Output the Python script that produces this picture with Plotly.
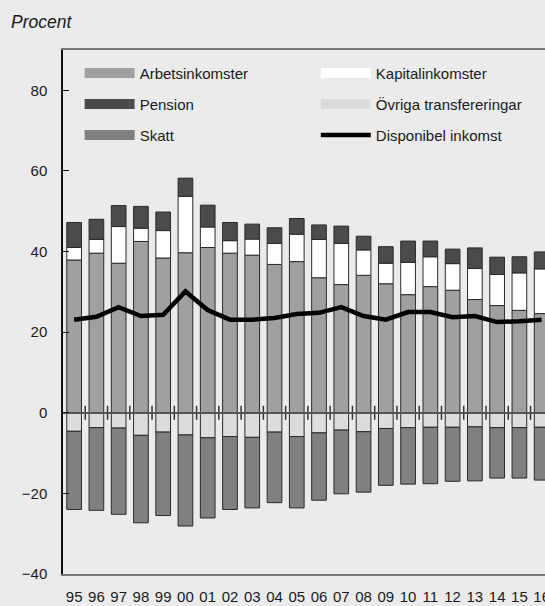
import plotly.graph_objects as go

years = ["95", "96", "97", "98", "99", "00", "01", "02", "03", "04", "05",
         "06", "07", "08", "09", "10", "11", "12", "13", "14", "15", "16"]

arbetsinkomster = [37.9, 39.6, 37.1, 42.5, 38.4, 39.7, 41.0, 39.6, 39.1, 36.8, 37.5,
                   33.5, 31.8, 34.1, 32.0, 29.3, 31.3, 30.4, 28.1, 26.6, 25.4, 24.6]
kapitalinkomster = [3.1, 3.4, 9.1, 3.3, 6.8, 14.0, 5.1, 3.1, 4.0, 5.2, 6.8,
                    9.5, 10.2, 6.3, 5.1, 8.0, 7.4, 6.6, 7.7, 7.7, 9.3, 11.1]
pension = [6.2, 5.0, 5.2, 5.4, 4.6, 4.5, 5.4, 4.5, 3.7, 3.9, 3.9,
           3.6, 4.3, 3.4, 4.1, 5.3, 3.9, 3.6, 5.1, 4.3, 4.0, 4.2]
ovriga_transfereringar = [-4.6, -3.7, -3.8, -5.6, -4.8, -5.5, -6.2, -5.9, -6.1, -4.8, -5.9,
                          -5.0, -4.3, -4.7, -3.9, -3.7, -3.6, -3.6, -3.5, -3.7, -3.7, -3.6]
skatt = [-19.4, -20.5, -21.4, -21.7, -20.7, -22.6, -19.9, -18.1, -17.5, -17.5, -17.7,
         -16.7, -15.8, -15.0, -14.1, -14.0, -14.0, -13.4, -13.4, -12.5, -12.5, -13.1]
disponibel_inkomst = [23.1, 23.8, 26.2, 24.0, 24.3, 30.1, 25.5, 23.1, 23.1, 23.5, 24.5,
                      24.8, 26.2, 24.0, 23.1, 25.0, 25.0, 23.7, 24.0, 22.5, 22.7, 23.1]

y_ticks = [-40, -20, 0, 20, 40, 60, 80]

FONT = "Liberation Sans, Arial, sans-serif"
BG = "#ebebeb"
OUT = "#2a2a2a"

x = list(range(len(years)))
fig = go.Figure()

series = [
    ("Arbetsinkomster", arbetsinkomster, "#a0a0a0"),
    ("Kapitalinkomster", kapitalinkomster, "#ffffff"),
    ("Pension", pension, "#4b4b4b"),
    ("Övriga transfereringar", ovriga_transfereringar, "#dcdcdc"),
    ("Skatt", skatt, "#808080"),
]
for name, vals, col in series:
    fig.add_trace(go.Bar(x=x, y=vals, name=name, width=0.66,
                         marker=dict(color=col, line=dict(color=OUT, width=1)),
                         showlegend=False))

fig.add_trace(go.Scatter(x=x, y=disponibel_inkomst, mode="lines", name="Disponibel inkomst",
                         line=dict(color="black", width=4.5), showlegend=False))

# category boundary ticks on the zero line
bounds = [i + 0.5 for i in x[:-1]]
fig.add_trace(go.Scatter(x=bounds, y=[0] * len(bounds), mode="markers", xaxis="x2",
                         marker=dict(symbol="line-ns", size=10, line=dict(color="#333", width=1.5)),
                         showlegend=False, hoverinfo="skip"))

# legend entries
legend_order = [
    ("Arbetsinkomster", "#a0a0a0", "legend", 10),
    ("Pension", "#4b4b4b", "legend", 10),
    ("Skatt", "#808080", "legend", 10),
    ("Kapitalinkomster", "#ffffff", "legend2", 10),
    ("Övriga transfereringar", "#dcdcdc", "legend2", 10),
    ("Disponibel inkomst", "#000000", "legend2", 4.5),
]
for name, col, leg, w in legend_order:
    fig.add_trace(go.Scatter(x=[None], y=[None], mode="lines", name=name,
                             line=dict(color=col, width=w), legend=leg,
                             legendgroup=name, showlegend=True))

fig.update_layout(
    width=545, height=606,
    autosize=False,
    barmode="relative",
    paper_bgcolor=BG, plot_bgcolor=BG,
    margin=dict(l=63, r=0, t=50, b=32),
    font=dict(family=FONT, size=15, color="#1a1a1a"),
    xaxis=dict(range=[-0.5, 21.15], tickmode="array", tickvals=x, ticktext=years,
               showline=True, linecolor="#777", linewidth=2, mirror=True,
               ticks="", ticklabelstandoff=8, ticklabeloverflow="allow",
               showgrid=False, zeroline=False, automargin=False),
    xaxis2=dict(overlaying="x", matches="x", anchor="free", position=40 / 130,
                showline=True, linecolor="#555", linewidth=2, showticklabels=False,
                ticks="", showgrid=False, zeroline=False, side="bottom"),
    yaxis=dict(range=[-40, 90], tickmode="array", tickvals=y_ticks,
               showline=True, linecolor="#111", linewidth=1.5,
               ticks="inside", ticklen=6, tickcolor="#111", ticklabelstandoff=11,
               showgrid=False, zeroline=False, automargin=False),
    legend=dict(x=0.0345, y=0.987, xanchor="left", yanchor="top", bgcolor="rgba(0,0,0,0)",
                tracegroupgap=8.5, itemwidth=50, font=dict(size=15)),
    legend2=dict(x=0.5245, y=0.987, xanchor="left", yanchor="top", bgcolor="rgba(0,0,0,0)",
                 tracegroupgap=8.5, itemwidth=50, font=dict(size=15)),
    annotations=[dict(text="<i>Procent</i>", xref="paper", yref="paper", x=-0.112, y=1.0,
                      xanchor="left", yanchor="bottom", yshift=16, showarrow=False,
                      font=dict(family="Liberation Sans, Arial, sans-serif", size=17.5,
                                color="#1a1a1a"))],
)

fig.write_html("out.html", config={"displayModeBar": False},
               post_script="document.body.style.margin='0';")
